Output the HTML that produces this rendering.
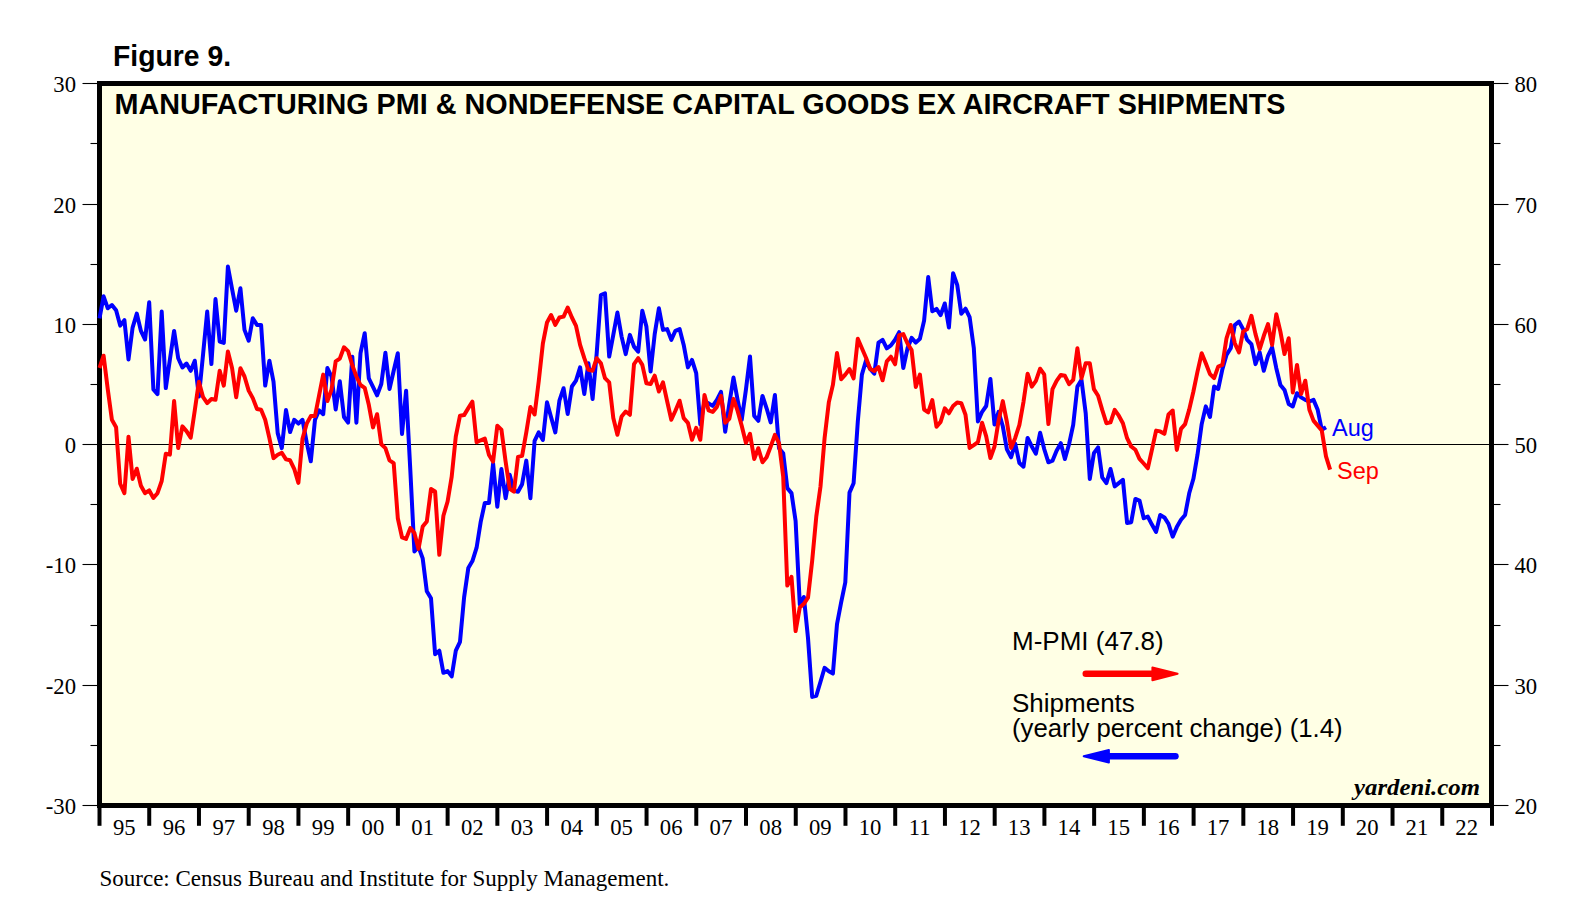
<!DOCTYPE html>
<html><head><meta charset="utf-8"><style>
html,body{margin:0;padding:0;background:#fff;}
body{width:1592px;height:902px;overflow:hidden;position:relative;}
svg{position:absolute;left:0;top:0;}
.ax{font-family:"Liberation Serif",serif;font-size:22.7px;fill:#000;}
.t{font-family:"Liberation Sans",sans-serif;}
</style></head><body>
<svg width="1592" height="902" viewBox="0 0 1592 902">
<rect x="99.5" y="83.5" width="1392.0" height="722.0" fill="#FFFFE5"/>
<line x1="99.5" y1="444.5" x2="1491.5" y2="444.5" stroke="#000" stroke-width="1"/>
<line x1="82.5" y1="805.5" x2="99.5" y2="805.5" stroke="#000" stroke-width="1.1"/>
<line x1="1491.5" y1="805.5" x2="1508.5" y2="805.5" stroke="#000" stroke-width="1.1"/>
<text x="76" y="813.8" text-anchor="end" class="ax">-30</text>
<text x="1514.5" y="813.8" class="ax">20</text>
<line x1="90.5" y1="745.5" x2="99.5" y2="745.5" stroke="#000" stroke-width="1.1"/>
<line x1="1491.5" y1="745.5" x2="1500.5" y2="745.5" stroke="#000" stroke-width="1.1"/>
<line x1="82.5" y1="685.5" x2="99.5" y2="685.5" stroke="#000" stroke-width="1.1"/>
<line x1="1491.5" y1="685.5" x2="1508.5" y2="685.5" stroke="#000" stroke-width="1.1"/>
<text x="76" y="693.8" text-anchor="end" class="ax">-20</text>
<text x="1514.5" y="693.8" class="ax">30</text>
<line x1="90.5" y1="625.5" x2="99.5" y2="625.5" stroke="#000" stroke-width="1.1"/>
<line x1="1491.5" y1="625.5" x2="1500.5" y2="625.5" stroke="#000" stroke-width="1.1"/>
<line x1="82.5" y1="564.5" x2="99.5" y2="564.5" stroke="#000" stroke-width="1.1"/>
<line x1="1491.5" y1="564.5" x2="1508.5" y2="564.5" stroke="#000" stroke-width="1.1"/>
<text x="76" y="572.8" text-anchor="end" class="ax">-10</text>
<text x="1514.5" y="572.8" class="ax">40</text>
<line x1="90.5" y1="504.5" x2="99.5" y2="504.5" stroke="#000" stroke-width="1.1"/>
<line x1="1491.5" y1="504.5" x2="1500.5" y2="504.5" stroke="#000" stroke-width="1.1"/>
<line x1="82.5" y1="444.5" x2="99.5" y2="444.5" stroke="#000" stroke-width="1.1"/>
<line x1="1491.5" y1="444.5" x2="1508.5" y2="444.5" stroke="#000" stroke-width="1.1"/>
<text x="76" y="452.8" text-anchor="end" class="ax">0</text>
<text x="1514.5" y="452.8" class="ax">50</text>
<line x1="90.5" y1="384.5" x2="99.5" y2="384.5" stroke="#000" stroke-width="1.1"/>
<line x1="1491.5" y1="384.5" x2="1500.5" y2="384.5" stroke="#000" stroke-width="1.1"/>
<line x1="82.5" y1="324.5" x2="99.5" y2="324.5" stroke="#000" stroke-width="1.1"/>
<line x1="1491.5" y1="324.5" x2="1508.5" y2="324.5" stroke="#000" stroke-width="1.1"/>
<text x="76" y="332.8" text-anchor="end" class="ax">10</text>
<text x="1514.5" y="332.8" class="ax">60</text>
<line x1="90.5" y1="264.5" x2="99.5" y2="264.5" stroke="#000" stroke-width="1.1"/>
<line x1="1491.5" y1="264.5" x2="1500.5" y2="264.5" stroke="#000" stroke-width="1.1"/>
<line x1="82.5" y1="204.5" x2="99.5" y2="204.5" stroke="#000" stroke-width="1.1"/>
<line x1="1491.5" y1="204.5" x2="1508.5" y2="204.5" stroke="#000" stroke-width="1.1"/>
<text x="76" y="212.8" text-anchor="end" class="ax">20</text>
<text x="1514.5" y="212.8" class="ax">70</text>
<line x1="90.5" y1="143.5" x2="99.5" y2="143.5" stroke="#000" stroke-width="1.1"/>
<line x1="1491.5" y1="143.5" x2="1500.5" y2="143.5" stroke="#000" stroke-width="1.1"/>
<line x1="82.5" y1="83.5" x2="99.5" y2="83.5" stroke="#000" stroke-width="1.1"/>
<line x1="1491.5" y1="83.5" x2="1508.5" y2="83.5" stroke="#000" stroke-width="1.1"/>
<text x="76" y="91.8" text-anchor="end" class="ax">30</text>
<text x="1514.5" y="91.8" class="ax">80</text>
<line x1="99.50" y1="805.5" x2="99.50" y2="825.8" stroke="#000" stroke-width="4"/>
<line x1="149.23" y1="805.5" x2="149.23" y2="825.8" stroke="#000" stroke-width="4"/>
<line x1="198.96" y1="805.5" x2="198.96" y2="825.8" stroke="#000" stroke-width="4"/>
<line x1="248.70" y1="805.5" x2="248.70" y2="825.8" stroke="#000" stroke-width="4"/>
<line x1="298.43" y1="805.5" x2="298.43" y2="825.8" stroke="#000" stroke-width="4"/>
<line x1="348.16" y1="805.5" x2="348.16" y2="825.8" stroke="#000" stroke-width="4"/>
<line x1="397.89" y1="805.5" x2="397.89" y2="825.8" stroke="#000" stroke-width="4"/>
<line x1="447.62" y1="805.5" x2="447.62" y2="825.8" stroke="#000" stroke-width="4"/>
<line x1="497.36" y1="805.5" x2="497.36" y2="825.8" stroke="#000" stroke-width="4"/>
<line x1="547.09" y1="805.5" x2="547.09" y2="825.8" stroke="#000" stroke-width="4"/>
<line x1="596.82" y1="805.5" x2="596.82" y2="825.8" stroke="#000" stroke-width="4"/>
<line x1="646.55" y1="805.5" x2="646.55" y2="825.8" stroke="#000" stroke-width="4"/>
<line x1="696.28" y1="805.5" x2="696.28" y2="825.8" stroke="#000" stroke-width="4"/>
<line x1="746.02" y1="805.5" x2="746.02" y2="825.8" stroke="#000" stroke-width="4"/>
<line x1="795.75" y1="805.5" x2="795.75" y2="825.8" stroke="#000" stroke-width="4"/>
<line x1="845.48" y1="805.5" x2="845.48" y2="825.8" stroke="#000" stroke-width="4"/>
<line x1="895.21" y1="805.5" x2="895.21" y2="825.8" stroke="#000" stroke-width="4"/>
<line x1="944.94" y1="805.5" x2="944.94" y2="825.8" stroke="#000" stroke-width="4"/>
<line x1="994.68" y1="805.5" x2="994.68" y2="825.8" stroke="#000" stroke-width="4"/>
<line x1="1044.41" y1="805.5" x2="1044.41" y2="825.8" stroke="#000" stroke-width="4"/>
<line x1="1094.14" y1="805.5" x2="1094.14" y2="825.8" stroke="#000" stroke-width="4"/>
<line x1="1143.87" y1="805.5" x2="1143.87" y2="825.8" stroke="#000" stroke-width="4"/>
<line x1="1193.60" y1="805.5" x2="1193.60" y2="825.8" stroke="#000" stroke-width="4"/>
<line x1="1243.34" y1="805.5" x2="1243.34" y2="825.8" stroke="#000" stroke-width="4"/>
<line x1="1293.07" y1="805.5" x2="1293.07" y2="825.8" stroke="#000" stroke-width="4"/>
<line x1="1342.80" y1="805.5" x2="1342.80" y2="825.8" stroke="#000" stroke-width="4"/>
<line x1="1392.53" y1="805.5" x2="1392.53" y2="825.8" stroke="#000" stroke-width="4"/>
<line x1="1442.26" y1="805.5" x2="1442.26" y2="825.8" stroke="#000" stroke-width="4"/>
<line x1="1492.00" y1="805.5" x2="1492.00" y2="825.8" stroke="#000" stroke-width="4"/>
<text x="124.35714285714286" y="835" text-anchor="middle" class="ax">95</text>
<text x="174.07142857142856" y="835" text-anchor="middle" class="ax">96</text>
<text x="223.78571428571428" y="835" text-anchor="middle" class="ax">97</text>
<text x="273.5" y="835" text-anchor="middle" class="ax">98</text>
<text x="323.2142857142857" y="835" text-anchor="middle" class="ax">99</text>
<text x="372.92857142857144" y="835" text-anchor="middle" class="ax">00</text>
<text x="422.64285714285717" y="835" text-anchor="middle" class="ax">01</text>
<text x="472.3571428571429" y="835" text-anchor="middle" class="ax">02</text>
<text x="522.0714285714286" y="835" text-anchor="middle" class="ax">03</text>
<text x="571.7857142857142" y="835" text-anchor="middle" class="ax">04</text>
<text x="621.5" y="835" text-anchor="middle" class="ax">05</text>
<text x="671.2142857142858" y="835" text-anchor="middle" class="ax">06</text>
<text x="720.9285714285714" y="835" text-anchor="middle" class="ax">07</text>
<text x="770.6428571428571" y="835" text-anchor="middle" class="ax">08</text>
<text x="820.3571428571429" y="835" text-anchor="middle" class="ax">09</text>
<text x="870.0714285714286" y="835" text-anchor="middle" class="ax">10</text>
<text x="919.7857142857143" y="835" text-anchor="middle" class="ax">11</text>
<text x="969.5" y="835" text-anchor="middle" class="ax">12</text>
<text x="1019.2142857142858" y="835" text-anchor="middle" class="ax">13</text>
<text x="1068.9285714285716" y="835" text-anchor="middle" class="ax">14</text>
<text x="1118.642857142857" y="835" text-anchor="middle" class="ax">15</text>
<text x="1168.357142857143" y="835" text-anchor="middle" class="ax">16</text>
<text x="1218.0714285714287" y="835" text-anchor="middle" class="ax">17</text>
<text x="1267.7857142857142" y="835" text-anchor="middle" class="ax">18</text>
<text x="1317.5" y="835" text-anchor="middle" class="ax">19</text>
<text x="1367.2142857142858" y="835" text-anchor="middle" class="ax">20</text>
<text x="1416.9285714285716" y="835" text-anchor="middle" class="ax">21</text>
<text x="1466.642857142857" y="835" text-anchor="middle" class="ax">22</text>
<rect x="99.5" y="83.5" width="1392.0" height="722.0" fill="none" stroke="#000" stroke-width="5"/>
<path d="M99.5,318.3 L103.6,296.3 L107.8,308.3 L111.9,305.0 L116.1,310.3 L120.2,325.6 L124.4,320.2 L128.5,359.5 L132.6,327.6 L136.8,313.6 L140.9,330.9 L145.1,339.5 L149.2,302.3 L153.4,389.4 L157.5,394.1 L161.7,311.6 L165.8,388.1 L169.9,359.5 L174.1,330.9 L178.2,358.2 L182.4,367.5 L186.5,363.5 L190.7,370.8 L194.8,360.7 L198.9,396.6 L203.1,354.0 L207.2,311.6 L211.4,364.0 L215.5,299.1 L219.7,341.5 L223.8,342.9 L227.9,266.6 L232.1,289.1 L236.2,310.7 L240.4,288.3 L244.5,329.9 L248.7,340.7 L252.8,318.2 L257.0,324.9 L261.1,324.9 L265.2,385.6 L269.4,360.7 L273.5,381.6 L277.7,433.1 L281.8,448.1 L286.0,410.0 L290.1,432.1 L294.2,419.8 L298.4,423.6 L302.5,419.8 L306.7,442.4 L310.8,461.3 L315.0,419.8 L319.1,410.4 L323.2,414.2 L327.4,368.0 L331.5,376.5 L335.7,409.5 L339.8,381.2 L344.0,417.0 L348.1,422.7 L352.3,356.7 L356.4,422.7 L360.5,353.2 L364.7,333.2 L368.8,378.4 L373.0,386.9 L377.1,395.3 L381.3,384.0 L385.4,352.7 L389.5,389.0 L393.7,370.8 L397.8,353.3 L402.0,434.0 L406.1,390.7 L410.3,469.9 L414.4,551.4 L418.5,546.9 L422.7,558.4 L426.8,591.2 L431.0,598.3 L435.1,654.2 L439.3,650.7 L443.4,672.8 L447.6,671.1 L451.7,676.4 L455.8,650.7 L460.0,641.8 L464.1,597.4 L468.3,568.1 L472.4,561.1 L476.6,547.7 L480.7,521.9 L484.8,503.0 L489.0,503.0 L493.1,463.5 L497.3,506.8 L501.4,469.1 L505.6,498.3 L509.7,474.8 L513.9,490.8 L518.0,491.7 L522.1,484.2 L526.3,460.6 L530.4,498.3 L534.6,440.9 L538.7,432.4 L542.9,439.9 L547.0,402.2 L551.1,417.3 L555.3,432.4 L559.4,400.7 L563.6,388.2 L567.7,414.0 L571.9,386.5 L576.0,380.7 L580.1,367.4 L584.3,394.0 L588.4,363.2 L592.6,399.0 L596.7,353.2 L600.9,295.0 L605.0,293.3 L609.2,356.6 L613.3,334.9 L617.4,312.5 L621.6,336.6 L625.7,354.1 L629.9,334.9 L634.0,346.6 L638.2,351.6 L642.3,310.8 L646.4,326.6 L650.6,371.6 L654.7,334.1 L658.9,308.3 L663.0,329.9 L667.2,329.1 L671.3,339.9 L675.4,330.8 L679.6,329.1 L683.7,344.9 L687.9,367.4 L692.0,359.9 L696.2,373.2 L700.3,424.3 L704.5,401.5 L708.6,403.4 L712.7,405.9 L716.9,399.9 L721.0,391.9 L725.2,431.8 L729.3,403.9 L733.5,377.5 L737.6,399.9 L741.7,419.9 L745.9,389.9 L750.0,356.4 L754.2,415.9 L758.3,420.8 L762.5,395.9 L766.6,408.3 L770.7,422.4 L774.9,395.0 L779.0,448.2 L783.2,453.2 L787.3,488.1 L791.5,493.1 L795.6,521.0 L799.8,604.4 L803.9,597.1 L808.0,638.0 L812.2,696.9 L816.3,695.8 L820.5,681.8 L824.6,667.8 L828.8,671.3 L832.9,673.6 L837.0,624.1 L841.2,602.1 L845.3,582.3 L849.5,492.6 L853.6,483.2 L857.8,421.7 L861.9,374.6 L866.0,360.5 L870.2,369.0 L874.3,373.7 L878.5,342.6 L882.6,339.8 L886.8,348.3 L890.9,345.4 L895.1,339.8 L899.2,332.2 L903.3,368.0 L907.5,348.3 L911.6,337.9 L915.8,342.6 L919.9,338.8 L924.1,320.6 L928.2,277.1 L932.3,311.2 L936.5,308.9 L940.6,315.1 L944.8,303.5 L948.9,327.5 L953.1,273.2 L957.2,284.8 L961.3,313.8 L965.5,308.7 L969.6,317.1 L973.8,347.9 L977.9,421.5 L982.1,411.8 L986.2,406.0 L990.4,378.9 L994.5,424.6 L998.6,411.9 L1002.8,426.3 L1006.9,449.4 L1011.1,457.3 L1015.2,443.6 L1019.4,463.1 L1023.5,466.7 L1027.6,437.9 L1031.8,446.5 L1035.9,453.7 L1040.1,432.8 L1044.2,449.0 L1048.4,462.3 L1052.5,460.7 L1056.6,450.7 L1060.8,443.2 L1064.9,459.0 L1069.1,444.0 L1073.2,424.9 L1077.4,386.6 L1081.5,379.9 L1085.7,413.2 L1089.8,479.0 L1093.9,453.2 L1098.1,447.3 L1102.2,477.3 L1106.4,483.1 L1110.5,469.0 L1114.7,486.4 L1118.8,483.1 L1122.9,479.8 L1127.1,523.0 L1131.2,522.2 L1135.4,498.9 L1139.5,500.5 L1143.7,518.2 L1147.8,516.6 L1151.9,524.6 L1156.1,531.9 L1160.2,515.0 L1164.4,517.4 L1168.5,523.8 L1172.7,536.7 L1176.8,527.1 L1181.0,519.8 L1185.1,515.0 L1189.2,493.3 L1193.4,478.8 L1197.5,454.7 L1201.7,424.1 L1205.8,406.4 L1210.0,416.9 L1214.1,386.5 L1218.2,389.0 L1222.4,369.1 L1226.5,354.9 L1230.7,348.3 L1234.8,325.0 L1239.0,321.6 L1243.1,329.1 L1247.2,339.9 L1251.4,344.1 L1255.5,364.1 L1259.7,352.4 L1263.8,370.7 L1268.0,355.8 L1272.1,347.4 L1276.3,368.2 L1280.4,384.9 L1284.5,389.9 L1288.7,404.0 L1292.8,406.5 L1297.0,393.2 L1301.1,397.4 L1305.3,399.9 L1309.4,401.5 L1313.5,399.9 L1317.7,409.8 L1321.8,429.8 L1326.0,427.3" fill="none" stroke="#0000FF" stroke-width="4" stroke-linejoin="round"/>
<path d="M99.5,368.0 L103.6,355.7 L107.8,389.6 L111.9,419.8 L116.1,427.3 L120.2,483.8 L124.4,493.2 L128.5,436.7 L132.6,479.1 L136.8,468.7 L140.9,485.7 L145.1,493.2 L149.2,490.4 L153.4,497.9 L157.5,493.2 L161.7,481.0 L165.8,453.7 L169.9,454.6 L174.1,400.9 L178.2,448.0 L182.4,426.4 L186.5,431.1 L190.7,437.7 L194.8,410.3 L198.9,381.8 L203.1,397.2 L207.2,403.1 L211.4,399.0 L215.5,399.8 L219.7,370.7 L223.8,385.6 L227.9,351.5 L232.1,368.2 L236.2,397.3 L240.4,368.2 L244.5,376.5 L248.7,390.6 L252.8,398.1 L257.0,409.0 L261.1,409.8 L265.2,419.8 L269.4,438.1 L273.5,458.1 L277.7,454.7 L281.8,452.8 L286.0,459.4 L290.1,460.3 L294.2,468.8 L298.4,482.9 L302.5,438.7 L306.7,423.6 L310.8,416.1 L315.0,416.1 L319.1,395.3 L323.2,374.6 L327.4,401.0 L331.5,389.7 L335.7,361.4 L339.8,358.6 L344.0,347.3 L348.1,351.1 L352.3,365.2 L356.4,376.5 L360.5,385.0 L364.7,387.8 L368.8,404.8 L373.0,427.4 L377.1,414.2 L381.3,444.3 L385.4,448.1 L389.5,460.3 L393.7,463.1 L397.8,518.2 L402.0,537.3 L406.1,538.9 L410.3,528.1 L414.4,533.1 L418.5,548.9 L422.7,526.5 L426.8,521.5 L431.0,489.0 L435.1,491.5 L439.3,554.8 L443.4,515.7 L447.6,501.5 L451.7,476.6 L455.8,436.5 L460.0,415.7 L464.1,415.1 L468.3,408.1 L472.4,401.6 L476.6,442.3 L480.7,440.3 L484.8,438.6 L489.0,455.0 L493.1,461.6 L497.3,425.8 L501.4,429.6 L505.6,461.6 L509.7,488.9 L513.9,491.7 L518.0,456.9 L522.1,455.9 L526.3,432.4 L530.4,407.0 L534.6,414.5 L538.7,381.5 L542.9,343.3 L547.0,322.5 L551.1,315.0 L555.3,324.9 L559.4,317.5 L563.6,316.6 L567.7,307.5 L571.9,317.5 L576.0,325.8 L580.1,344.9 L584.3,358.2 L588.4,369.9 L592.6,370.7 L596.7,358.2 L600.9,363.2 L605.0,378.2 L609.2,382.4 L613.3,418.1 L617.4,434.8 L621.6,416.5 L625.7,411.5 L629.9,414.8 L634.0,364.1 L638.2,358.2 L642.3,364.9 L646.4,383.2 L650.6,384.0 L654.7,375.7 L658.9,391.5 L663.0,382.4 L667.2,401.5 L671.3,419.8 L675.4,410.7 L679.6,400.7 L683.7,418.1 L687.9,422.8 L692.0,439.8 L696.2,427.8 L700.3,439.8 L704.5,394.9 L708.6,410.4 L712.7,411.9 L716.9,406.9 L721.0,395.9 L725.2,422.8 L729.3,418.9 L733.5,398.9 L737.6,410.9 L741.7,425.8 L745.9,442.8 L750.0,433.8 L754.2,459.0 L758.3,448.2 L762.5,462.3 L766.6,457.3 L770.7,446.5 L774.9,434.9 L779.0,443.2 L783.2,476.5 L787.3,585.6 L791.5,576.9 L795.6,631.1 L799.8,607.4 L803.9,603.8 L808.0,597.7 L812.2,560.5 L816.3,516.4 L820.5,486.5 L824.6,438.0 L828.8,402.4 L832.9,384.9 L837.0,353.0 L841.2,379.3 L845.3,374.6 L849.5,369.0 L853.6,378.4 L857.8,338.8 L861.9,348.3 L866.0,357.7 L870.2,369.0 L874.3,370.9 L878.5,367.1 L882.6,380.3 L886.8,361.4 L890.9,356.7 L895.1,364.3 L899.2,335.1 L903.3,334.1 L907.5,343.5 L911.6,350.1 L915.8,386.9 L919.9,374.6 L924.1,409.5 L928.2,412.3 L932.3,400.1 L936.5,426.8 L940.6,421.9 L944.8,408.3 L948.9,413.3 L953.1,406.1 L957.2,402.5 L961.3,403.3 L965.5,414.8 L969.6,447.9 L973.8,445.1 L977.9,442.2 L982.1,422.7 L986.2,436.4 L990.4,458.0 L994.5,446.5 L998.6,420.6 L1002.8,401.1 L1006.9,422.0 L1011.1,447.9 L1015.2,437.9 L1019.4,424.9 L1023.5,401.8 L1027.6,373.7 L1031.8,386.7 L1035.9,380.9 L1040.1,368.7 L1044.2,374.4 L1048.4,424.0 L1052.5,389.1 L1056.6,380.8 L1060.8,374.9 L1064.9,375.8 L1069.1,384.1 L1073.2,379.9 L1077.4,348.3 L1081.5,378.3 L1085.7,363.3 L1089.8,363.3 L1093.9,389.1 L1098.1,395.7 L1102.2,409.9 L1106.4,423.2 L1110.5,422.4 L1114.7,409.9 L1118.8,415.7 L1122.9,423.2 L1127.1,438.2 L1131.2,446.5 L1135.4,449.8 L1139.5,458.9 L1143.7,463.5 L1147.8,468.3 L1151.9,449.9 L1156.1,430.6 L1160.2,431.4 L1164.4,433.8 L1168.5,414.5 L1172.7,410.5 L1176.8,449.9 L1181.0,428.9 L1185.1,424.1 L1189.2,409.6 L1193.4,391.5 L1197.5,371.6 L1201.7,353.3 L1205.8,363.2 L1210.0,374.1 L1214.1,378.2 L1218.2,366.6 L1222.4,364.9 L1226.5,338.3 L1230.7,325.0 L1234.8,343.3 L1239.0,352.4 L1243.1,331.6 L1247.2,329.1 L1251.4,315.8 L1255.5,334.1 L1259.7,349.1 L1263.8,335.8 L1268.0,324.1 L1272.1,344.9 L1276.3,314.2 L1280.4,331.6 L1284.5,354.1 L1288.7,338.3 L1292.8,392.4 L1297.0,364.9 L1301.1,394.0 L1305.3,380.7 L1309.4,409.8 L1313.5,420.6 L1317.7,425.6 L1321.8,430.6 L1326.0,456.4 L1330.1,469.7" fill="none" stroke="#FF0000" stroke-width="4" stroke-linejoin="round"/>
<text x="113" y="66" class="t" style="font-size:29.2px;font-weight:bold" textLength="118" lengthAdjust="spacingAndGlyphs">Figure 9.</text>
<text x="114.5" y="114" class="t" style="font-size:30.4px;font-weight:bold" textLength="1171" lengthAdjust="spacingAndGlyphs">MANUFACTURING PMI &amp; NONDEFENSE CAPITAL GOODS EX AIRCRAFT SHIPMENTS</text>
<line x1="1085.8" y1="673.8" x2="1155" y2="673.8" stroke="#FF0000" stroke-width="6.6" stroke-linecap="round"/>
<polygon points="1152.4,667.4 1152.4,680.2 1177.6,673.8" fill="#FF0000" stroke="#FF0000" stroke-width="2" stroke-linejoin="round"/>
<line x1="1106" y1="756.3" x2="1175.4" y2="756.3" stroke="#0000FF" stroke-width="6.6" stroke-linecap="round"/>
<polygon points="1108.9,750 1108.9,762.6 1083.7,756.3" fill="#0000FF" stroke="#0000FF" stroke-width="2" stroke-linejoin="round"/>
<text x="1012" y="650.1" class="t" style="font-size:26px">M-PMI (47.8)</text>
<text x="1012" y="711.7" class="t" style="font-size:26px">Shipments</text>
<text x="1012" y="736.7" class="t" style="font-size:25.75px">(yearly percent change) (1.4)</text>
<text x="1332" y="436" class="t" style="font-size:23.5px;fill:#0000FF">Aug</text>
<text x="1337" y="478.8" class="t" style="font-size:23.5px;fill:#FF0000">Sep</text>
<text x="1480" y="795.3" text-anchor="end" textLength="126" lengthAdjust="spacingAndGlyphs" style="font-family:'Liberation Serif',serif;font-style:italic;font-weight:bold;font-size:23.5px">yardeni.com</text>
<text x="99.5" y="886" style="font-family:'Liberation Serif',serif;font-size:23px">Source: Census Bureau and Institute for Supply Management.</text>
</svg>
</body></html>
